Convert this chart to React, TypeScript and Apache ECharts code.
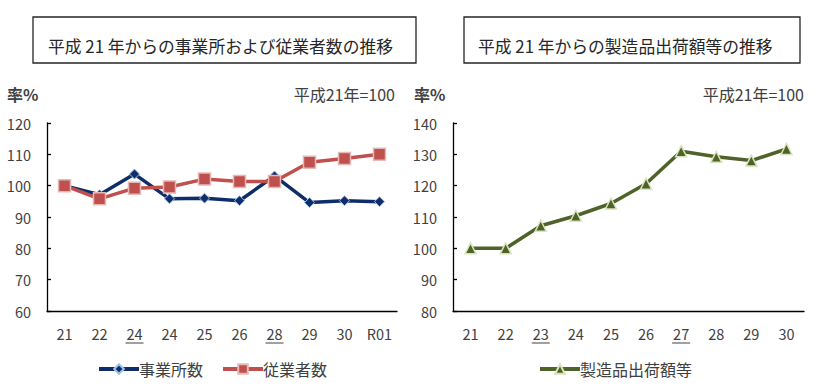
import React, { useEffect, useRef } from "react";
import * as echarts from "echarts";

const leftCategories = ["21", "22", "24", "24", "25", "26", "28", "29", "30", "R01"];
const leftUnderlined = [2, 6];
const establishments = [100, 97.1, 103.7, 95.8, 96.0, 95.2, 103.1, 94.6, 95.2, 94.9];
const employees = [100, 95.8, 99.2, 99.6, 102.1, 101.3, 101.3, 107.5, 108.7, 110.0];

const rightCategories = ["21", "22", "23", "24", "25", "26", "27", "28", "29", "30"];
const rightUnderlined = [2, 6];
const shipments = [100, 100, 107.2, 110.4, 114.3, 120.6, 131.0, 129.2, 128.0, 131.7];

const leftTitle = "平成 21 年からの事業所および従業者数の推移";
const rightTitle = "平成 21 年からの製造品出荷額等の推移";
const unitLabel = "率%";
const baseLabel = "平成21年=100";

const FONT = "'Noto Sans CJK JP', 'Noto Sans', sans-serif";
const TEXT = "#404040";
const NAVY = "#0f2d6b";
const RED = "#c0504d";
const GREEN = "#4f6228";

export default function App() {
  const ref = useRef<HTMLDivElement>(null);
  useEffect(() => {
    if (!ref.current) return;
    const chart = echarts.init(ref.current, undefined, { renderer: "svg" });

    const makeLabelFormatter = (under: number[]) => (value: string, index: number) =>
      under.includes(index) ? `{a|${value}}\n{u|}` : `{a|${value}}`;

    const richLabel = {
      a: { fontSize: 14.5, color: TEXT, fontFamily: FONT, lineHeight: 18 },
      u: { width: 18, height: 1, backgroundColor: TEXT, lineHeight: 2 },
    };

    const xAxisCommon = {
      type: "category" as const,
      boundaryGap: true,
      axisLine: { lineStyle: { color: "#000", width: 1.3 } },
      axisTick: { inside: true, length: 5, interval: 0, lineStyle: { color: "#000", width: 1.3 } },
      axisLabel: { margin: 13, interval: 0, rich: richLabel },
      splitLine: { show: false },
    };
    const yAxisCommon = {
      type: "value" as const,
      interval: 10,
      axisLine: { show: true, lineStyle: { color: "#000", width: 1.3 } },
      axisTick: { show: true, inside: true, length: 4, lineStyle: { color: "#000", width: 1.3 } },
      axisLabel: { margin: 16, fontSize: 14.5, color: TEXT, fontFamily: FONT },
      splitLine: { show: false },
    };

    const legendText = { fontSize: 16, color: TEXT, fontFamily: FONT, padding: [0, 0, 0, -5] };

    chart.setOption({
      animation: false,
      textStyle: { fontFamily: FONT },
      grid: [
        { left: 47, right: 423, top: 123, bottom: 79 },
        { left: 453, right: 16, top: 123, bottom: 79 },
      ],
      xAxis: [
        { ...xAxisCommon, gridIndex: 0, data: leftCategories, axisLabel: { ...xAxisCommon.axisLabel, formatter: makeLabelFormatter(leftUnderlined) } },
        { ...xAxisCommon, gridIndex: 1, data: rightCategories, axisLabel: { ...xAxisCommon.axisLabel, formatter: makeLabelFormatter(rightUnderlined) } },
      ],
      yAxis: [
        { ...yAxisCommon, gridIndex: 0, min: 60, max: 120 },
        { ...yAxisCommon, gridIndex: 1, min: 80, max: 140 },
      ],
      legend: [
        {
          data: ["事業所数", "従業者数"],
          left: 92,
          top: 356,
          itemWidth: 40,
          itemHeight: 12,
          itemGap: 18,
          lineStyle: { width: 4 },
          textStyle: legendText,
        },
        {
          data: ["製造品出荷額等"],
          left: 533,
          top: 356,
          itemWidth: 40,
          itemHeight: 12,
          lineStyle: { width: 4 },
          textStyle: legendText,
        },
      ],
      series: [
        {
          name: "事業所数",
          type: "line",
          xAxisIndex: 0,
          yAxisIndex: 0,
          data: establishments,
          symbol: "diamond",
          symbolSize: 10,
          lineStyle: { color: NAVY, width: 3.5 },
          itemStyle: { color: NAVY, borderColor: "#9dc3e6", borderWidth: 1 },
          z: 2,
        },
        {
          name: "従業者数",
          type: "line",
          xAxisIndex: 0,
          yAxisIndex: 0,
          data: employees,
          symbol: "rect",
          symbolSize: 12,
          lineStyle: { color: RED, width: 3.5 },
          itemStyle: { color: RED, borderColor: "#e6b9b8", borderWidth: 1.5 },
          z: 3,
        },
        {
          name: "製造品出荷額等",
          type: "line",
          xAxisIndex: 1,
          yAxisIndex: 1,
          data: shipments,
          symbol: "triangle",
          symbolSize: 11,
          lineStyle: { color: GREEN, width: 3.5 },
          itemStyle: { color: GREEN, borderColor: "#d7e4bd", borderWidth: 1.5 },
        },
      ],
      graphic: [
        { type: "rect", shape: { x: 33, y: 17, width: 383, height: 46 }, style: { fill: "#fff", stroke: "#262626", lineWidth: 1.3 } },
        { type: "rect", shape: { x: 464, y: 17, width: 336, height: 46 }, style: { fill: "#fff", stroke: "#262626", lineWidth: 1.3 } },
        { type: "text", x: 48, y: 46, style: { text: leftTitle, font: `16.8px ${FONT}`, fill: "#262626", verticalAlign: "middle" } },
        { type: "text", x: 478, y: 46, style: { text: rightTitle, font: `16.8px ${FONT}`, fill: "#262626", verticalAlign: "middle" } },
        { type: "text", x: 7, y: 94, style: { text: unitLabel, font: `bold 16px ${FONT}`, fill: TEXT, verticalAlign: "middle" } },
        { type: "text", x: 414, y: 94, style: { text: unitLabel, font: `bold 16px ${FONT}`, fill: TEXT, verticalAlign: "middle" } },
        { type: "text", x: 395, y: 94, style: { text: baseLabel, font: `16px ${FONT}`, fill: TEXT, align: "right", verticalAlign: "middle" } },
        { type: "text", x: 804, y: 94, style: { text: baseLabel, font: `16px ${FONT}`, fill: TEXT, align: "right", verticalAlign: "middle" } },
      ],
    });
    return () => chart.dispose();
  }, []);
  return <div ref={ref} style={{ position: "absolute", left: 0, top: 0, width: 820, height: 390 }} />;
}
